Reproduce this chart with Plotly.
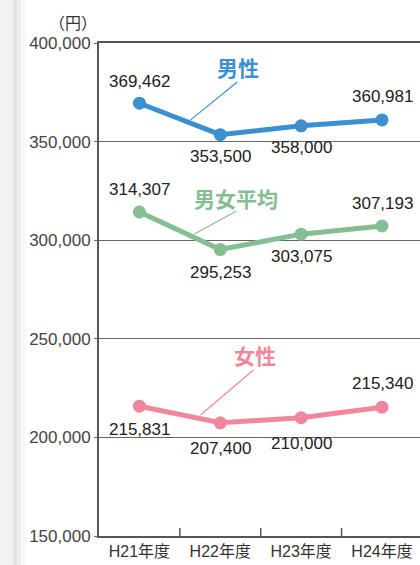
import plotly.graph_objects as go

categories = ["H21年度", "H22年度", "H23年度", "H24年度"]
men = [369462, 353500, 358000, 360981]
avg = [314307, 295253, 303075, 307193]
women = [215831, 207400, 210000, 215340]
y_ticks = [150000, 200000, 250000, 300000, 350000, 400000]
y_tick_text = ["150,000", "200,000", "250,000", "300,000", "350,000", "400,000"]
series_names = ["男性", "男女平均", "女性"]

# styling / label placement (pixel shifts for value labels)
men_shift = [-22, 22, 22, -23]
avg_shift = [-22, 23, 22, -23]
women_shift = [23, 26, 26, -24]
colors = ["#3d90d0", "#86be94", "#f0879d"]

W, H = 420, 565
L, R, T, B = 99, 0, 43, 29
NUM_FONT = "Liberation Sans, Arial, sans-serif"
JP_FONT = "Liberation Sans, Noto Sans CJK JP, sans-serif"

fig = go.Figure()
xs = list(range(len(categories)))
for vals, col in zip([men, avg, women], colors):
    fig.add_trace(go.Scatter(
        x=xs, y=vals, mode="lines+markers",
        line=dict(color=col, width=5),
        marker=dict(color=col, size=13),
        hoverinfo="skip", showlegend=False, cliponaxis=False,
    ))

annotations = []
for vals, shifts in zip([men, avg, women], [men_shift, avg_shift, women_shift]):
    for i, (v, s) in enumerate(zip(vals, shifts)):
        annotations.append(dict(
            x=i, y=v, xref="x", yref="y", text=f"{v:,}", showarrow=False,
            yshift=-s, font=dict(family=NUM_FONT, size=17, color="#222222"),
        ))

# series name labels and leader lines (positions in data space)
name_pos = [(1.22, 387800), (1.19, 321400), (1.43, 241800)]
leaders = [((1.21, 380200), (0.63, 360900)),
           ((1.20, 314800), (0.68, 303100)),
           ((1.41, 234200), (0.755, 211400))]
for name, (nx, ny), col in zip(series_names, name_pos, colors):
    annotations.append(dict(
        x=nx, y=ny, xref="x", yref="y", text=name, showarrow=False,
        font=dict(family="Noto Sans CJK JP, sans-serif", size=21, color=col, weight="bold"),
    ))

annotations.append(dict(
    x=(73 - L) / (W - L - R), y=1.0, xref="paper", yref="paper", yshift=21, text="（円）",
    showarrow=False, xanchor="center", yanchor="middle",
    font=dict(family="Noto Sans CJK JP, sans-serif", size=16, color="#333333"),
))

shapes = []
for ((x0, y0), (x1, y1)), col in zip(leaders, colors):
    shapes.append(dict(type="line", xref="x", yref="y", x0=x0, y0=y0, x1=x1, y1=y1,
                       line=dict(color=col, width=1.2)))

# paper-like left shadow strip
px = lambda p: (p - L) / (W - L - R)
for a, b, c in [(0, 13, "#f2f2f2"), (13, 17, "#e3e3e3"), (17, 21, "#ededed"),
                (21, 26, "#f8f8f8")]:
    shapes.append(dict(type="rect", xref="paper", yref="paper", x0=px(a), x1=px(b),
                       y0=-0.06, y1=1.1, fillcolor=c, line=dict(width=0), layer="below"))

fig.update_layout(
    width=W, height=H, margin=dict(l=L, r=R, t=T, b=B),
    paper_bgcolor="white", plot_bgcolor="white",
    annotations=annotations, shapes=shapes,
    xaxis=dict(
        range=[-0.5, 3.47], tickmode="array", tickvals=xs, ticktext=categories,
        showgrid=False, showline=True, linecolor="#555555", linewidth=1.5, mirror=True,
        ticks="", tickfont=dict(family=JP_FONT, size=16, color="#333333"),
        zeroline=False, fixedrange=True,
    ),
    yaxis=dict(
        range=[150000, 400000], tickmode="array", tickvals=y_ticks, ticktext=y_tick_text,
        showgrid=True, gridcolor="#666666", gridwidth=1.3,
        showline=True, linecolor="#555555", linewidth=2,
        ticks="outside", ticklen=3, tickcolor="#666666",
        tickfont=dict(family=NUM_FONT, size=17, color="#444444"),
        zeroline=False, fixedrange=True,
    ),
)

# boundary ticks between categories (inside, pointing up)
for i in range(1, len(categories)):
    fig.add_shape(type="line", xref="x", yref="paper", x0=i - 0.5, x1=i - 0.5,
                  y0=0, y1=0.016, line=dict(color="#555555", width=1.5))

fig.write_html("out.html", config={"displayModeBar": False})

# remove default page margins so the figure fills the window exactly
with open("out.html", encoding="utf-8") as f:
    html = f.read()
html = html.replace("<head>", "<head><style>html,body{margin:0;padding:0;overflow:hidden;}</style>", 1)
with open("out.html", "w", encoding="utf-8") as f:
    f.write(html)
